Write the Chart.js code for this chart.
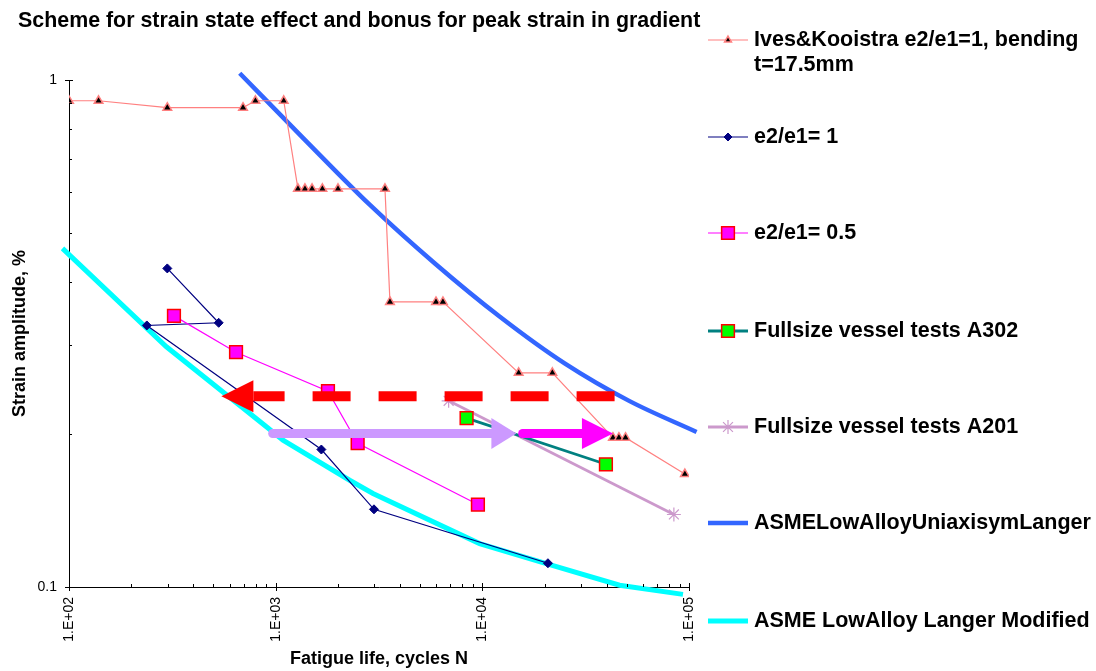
<!DOCTYPE html>
<html>
<head>
<meta charset="utf-8">
<script src="https://cdn.jsdelivr.net/npm/chart.js@4/dist/chart.umd.min.js"></script>
<style>
  body { margin: 0; background: #fff; }
  #wrap { width: 1096px; height: 671px; }
</style>
</head>
<body>
<div id="wrap"><canvas id="strainChart" width="1096" height="671"></canvas></div>
<script>
// cycles N / strain amplitude %
const ivesN = [100, 139, 299, 695, 798, 1094, 1282, 1386, 1500, 1683, 2003, 3380, 3573, 5967, 6446, 14990, 21820, 42850, 45800, 49300, 95500];
const ivesS = [0.91, 0.91, 0.882, 0.882, 0.91, 0.91, 0.61, 0.61, 0.61, 0.61, 0.61, 0.61, 0.365, 0.365, 0.365, 0.2645, 0.2645, 0.197, 0.197, 0.197, 0.167];
const ratio1N = [299, 530, 238, 1664, 2990, 20770];
const ratio1S = [0.425, 0.332, 0.328, 0.1867, 0.1423, 0.1114];
const ratio05N = [322, 643, 1791, 2493, 9520];
const ratio05S = [0.3426, 0.2905, 0.2433, 0.1921, 0.1454];
const a302N = [8390, 39630];
const a302S = [0.2153, 0.1746];
const a201N = [6870, 84500];
const a201S = [0.2329, 0.139];
const uniaxN = [670, 1381, 2850, 5877, 12120, 25020, 51590, 108800];
const uniaxS = [1.031, 0.763, 0.5677, 0.4351, 0.3416, 0.2761, 0.2326, 0.2022];
const modN = [93, 296, 902, 1085, 2280, 2957, 9700, 20400, 46150, 93500];
const modS = [0.4654, 0.2977, 0.207, 0.1948, 0.1624, 0.1529, 0.1218, 0.1112, 0.1008, 0.0967];

// arrows: red dashed (back), lavender, magenta
const arrowFromN = [43650, 967, 15670];
const arrowToN = [546, 14610, 42850];
const arrowS = [0.2378, 0.2008, 0.2008];

const xTicks = [100, 1000, 10000, 100000];
const xTickLabels = ['1.E+02', '1.E+03', '1.E+04', '1.E+05'];
const yTicks = [0.1, 1];
const yTickLabels = ['0.1', '1'];

const FONT = "'Liberation Sans', Arial, sans-serif";

function pts(n, s) {
    return n.map((v, i) => ({ x: v, y: s[i] }));
}

const datasets = [
    {
        label: ['Ives&Kooistra e2/e1=1, bending', 't=17.5mm'],
        data: pts(ivesN, ivesS),
        borderColor: '#FF8080', borderWidth: 1.2,
        pointStyle: 'triangle', pointRadius: 5, pointBorderWidth: 1.5,
        pointBackgroundColor: '#000000', pointBorderColor: '#FF8080',
        legendY: 40, legendRadius: 4, order: 3
    },
    {
        label: ['e2/e1= 1'],
        data: pts(ratio1N, ratio1S),
        borderColor: '#000080', borderWidth: 1.2,
        pointStyle: 'rectRot', pointRadius: 4.5, pointBorderWidth: 1,
        pointBackgroundColor: '#000080', pointBorderColor: '#000080',
        legendY: 137, legendRadius: 4, order: 2
    },
    {
        label: ['e2/e1= 0.5'],
        data: pts(ratio05N, ratio05S),
        borderColor: '#FF00FF', borderWidth: 1.2,
        pointStyle: 'rect', pointRadius: 9, pointBorderWidth: 1.5,
        pointBackgroundColor: '#FF00FF', pointBorderColor: '#FF0000',
        legendY: 233, legendRadius: 9, order: 1
    },
    {
        label: ['Fullsize vessel tests A302'],
        data: pts(a302N, a302S),
        borderColor: '#008080', borderWidth: 2.8,
        pointStyle: 'rect', pointRadius: 9, pointBorderWidth: 1.5,
        pointBackgroundColor: '#00FF00', pointBorderColor: '#FF0000',
        legendY: 331, legendRadius: 9, order: 1
    },
    {
        label: ['Fullsize vessel tests A201'],
        data: pts(a201N, a201S),
        borderColor: '#CC99CC', borderWidth: 2.8,
        pointStyle: 'star', pointRadius: 7, pointBorderWidth: 1.2,
        pointBackgroundColor: '#CC99CC', pointBorderColor: '#CC99CC',
        legendY: 427, legendRadius: 7, order: 2
    },
    {
        label: ['ASMELowAlloyUniaxisymLanger'],
        data: pts(uniaxN, uniaxS),
        borderColor: '#3366FF', borderWidth: 4.5,
        cubicInterpolationMode: 'monotone',
        pointRadius: 0, pointHoverRadius: 0,
        clip: { left: 0, top: 10, right: 10, bottom: 0 },
        legendY: 523, order: 5
    },
    {
        label: ['ASME LowAlloy Langer Modified'],
        data: pts(modN, modS),
        borderColor: '#00FFFF', borderWidth: 5,
        pointRadius: 0, pointHoverRadius: 0,
        clip: { left: 8, top: 0, right: 0, bottom: 12 },
        legendY: 621, order: 4
    }
];

const decorPlugin = {
    id: 'decor',
    afterDatasetsDraw(chart) {
        const ctx = chart.ctx;
        const xs = chart.scales.x, ys = chart.scales.y;
        ctx.save();
        const drawHead = (tipX, y, dir, len, half, color) => {
            ctx.fillStyle = color;
            ctx.beginPath();
            ctx.moveTo(tipX, y);
            ctx.lineTo(tipX - dir * len, y - half);
            ctx.lineTo(tipX - dir * len, y + half);
            ctx.closePath();
            ctx.fill();
        };
        // red dashed arrow, pointing left
        let y = ys.getPixelForValue(arrowS[0]);
        let x0 = xs.getPixelForValue(arrowFromN[0]);
        let x1 = xs.getPixelForValue(arrowToN[0]);
        ctx.strokeStyle = '#FF0000';
        ctx.lineWidth = 10;
        ctx.lineCap = 'butt';
        ctx.setLineDash([38, 28]);
        ctx.beginPath();
        ctx.moveTo(x0, y);
        ctx.lineTo(x1 + 32, y);
        ctx.stroke();
        ctx.setLineDash([]);
        drawHead(x1, y, -1, 32, 16, '#FF0000');

        // lavender arrow
        y = ys.getPixelForValue(arrowS[1]);
        x0 = xs.getPixelForValue(arrowFromN[1]);
        x1 = xs.getPixelForValue(arrowToN[1]);
        ctx.strokeStyle = '#CC99FF';
        ctx.lineWidth = 9;
        ctx.lineCap = 'round';
        ctx.beginPath();
        ctx.moveTo(x0, y);
        ctx.lineTo(x1 - 24, y);
        ctx.stroke();
        drawHead(x1, y, 1, 25, 15.5, '#CC99FF');

        // magenta arrow
        y = ys.getPixelForValue(arrowS[2]);
        x0 = xs.getPixelForValue(arrowFromN[2]);
        x1 = xs.getPixelForValue(arrowToN[2]);
        ctx.strokeStyle = '#FF00FF';
        ctx.beginPath();
        ctx.moveTo(x0, y);
        ctx.lineTo(x1 - 30, y);
        ctx.stroke();
        drawHead(x1, y, 1, 31, 15.5, '#FF00FF');
        ctx.restore();
    },
    afterDraw(chart) {
        const ctx = chart.ctx;
        const xs = chart.scales.x, ys = chart.scales.y;
        const area = chart.chartArea;
        ctx.save();
        // tick marks
        ctx.strokeStyle = '#000';
        ctx.lineWidth = 1;
        ctx.beginPath();
        yTicks.forEach(v => {
            const py = Math.round(ys.getPixelForValue(v)) + 0.5;
            ctx.moveTo(area.left - 4, py);
            ctx.lineTo(area.left + 4, py);
        });
        for (let m = 2; m <= 9; m++) {
            const py = Math.round(ys.getPixelForValue(m / 10)) + 0.5;
            ctx.moveTo(area.left, py);
            ctx.lineTo(area.left + 3, py);
        }
        xTicks.forEach(v => {
            const px = Math.round(xs.getPixelForValue(v)) + 0.5;
            ctx.moveTo(px, area.bottom - 4);
            ctx.lineTo(px, area.bottom + 4);
        });
        for (let d = 100; d < 100000; d *= 10) {
            for (let m = 2; m <= 9; m++) {
                const px = Math.round(xs.getPixelForValue(m * d)) + 0.5;
                ctx.moveTo(px, area.bottom);
                ctx.lineTo(px, area.bottom - 3);
            }
        }
        ctx.stroke();

        // title and axis titles
        ctx.fillStyle = '#000';
        ctx.font = 'bold 21.4px ' + FONT;
        ctx.textAlign = 'left';
        ctx.textBaseline = 'alphabetic';
        ctx.fillText('Scheme for strain state effect and bonus for peak strain in gradient', 18, 27);

        ctx.font = 'bold 18px ' + FONT;
        ctx.textAlign = 'center';
        ctx.textBaseline = 'middle';
        ctx.fillText('Fatigue life, cycles N', (area.left + area.right) / 2, 659);
        ctx.save();
        ctx.translate(20, (area.top + area.bottom) / 2);
        ctx.rotate(-Math.PI / 2);
        ctx.fillText('Strain amplitude, %', 0, 0);
        ctx.restore();

        // legend
        ctx.font = 'bold 21.5px ' + FONT;
        ctx.textAlign = 'left';
        ctx.textBaseline = 'middle';
        chart.data.datasets.forEach(ds => {
            const ly = ds.legendY;
            ctx.strokeStyle = ds.borderColor;
            ctx.lineWidth = ds.borderWidth;
            ctx.lineCap = 'butt';
            ctx.beginPath();
            ctx.moveTo(708, ly);
            ctx.lineTo(748, ly);
            ctx.stroke();
            if (ds.pointRadius > 0) {
                ctx.fillStyle = ds.pointBackgroundColor;
                ctx.strokeStyle = ds.pointBorderColor;
                ctx.lineWidth = ds.pointBorderWidth;
                Chart.helpers.drawPoint(ctx, { pointStyle: ds.pointStyle, radius: ds.legendRadius, rotation: 0, borderWidth: ds.pointBorderWidth }, 728, ly);
            }
            ctx.fillStyle = '#000';
            ds.label.forEach((line, i) => ctx.fillText(line, 754, ly + i * 25));
        });
        ctx.restore();
    }
};

const chart = new Chart(document.getElementById('strainChart'), {
    type: 'line',
    data: { datasets: datasets },
    options: {
        responsive: false,
        animation: false,
        devicePixelRatio: 1,
        layout: { padding: { top: 80, right: 407, left: 0, bottom: 0 } },
        plugins: {
            legend: { display: false },
            tooltip: { enabled: false },
            title: { display: false }
        },
        scales: {
            x: {
                type: 'logarithmic',
                min: 100,
                max: 100000,
                afterBuildTicks: (scale) => { scale.ticks = xTicks.map(v => ({ value: v })); },
                afterFit: (scale) => { scale.height = 84; },
                grid: { display: false, drawTicks: false },
                border: { display: true, color: '#000', width: 1 },
                ticks: {
                    autoSkip: false,
                    minRotation: 90,
                    maxRotation: 90,
                    padding: 10,
                    color: '#000',
                    font: { family: FONT, size: 14 },
                    callback: (v) => xTickLabels[xTicks.indexOf(v)]
                }
            },
            y: {
                type: 'logarithmic',
                min: 0.1,
                max: 1,
                afterBuildTicks: (scale) => { scale.ticks = yTicks.map(v => ({ value: v })); },
                afterFit: (scale) => { scale.width = 69; },
                grid: { display: false, drawTicks: false },
                border: { display: true, color: '#000', width: 1 },
                ticks: {
                    autoSkip: false,
                    padding: 12,
                    color: '#000',
                    font: { family: FONT, size: 14 },
                    callback: (v) => yTickLabels[yTicks.indexOf(v)]
                }
            }
        }
    },
    plugins: [decorPlugin]
});
</script>
</body>
</html>
